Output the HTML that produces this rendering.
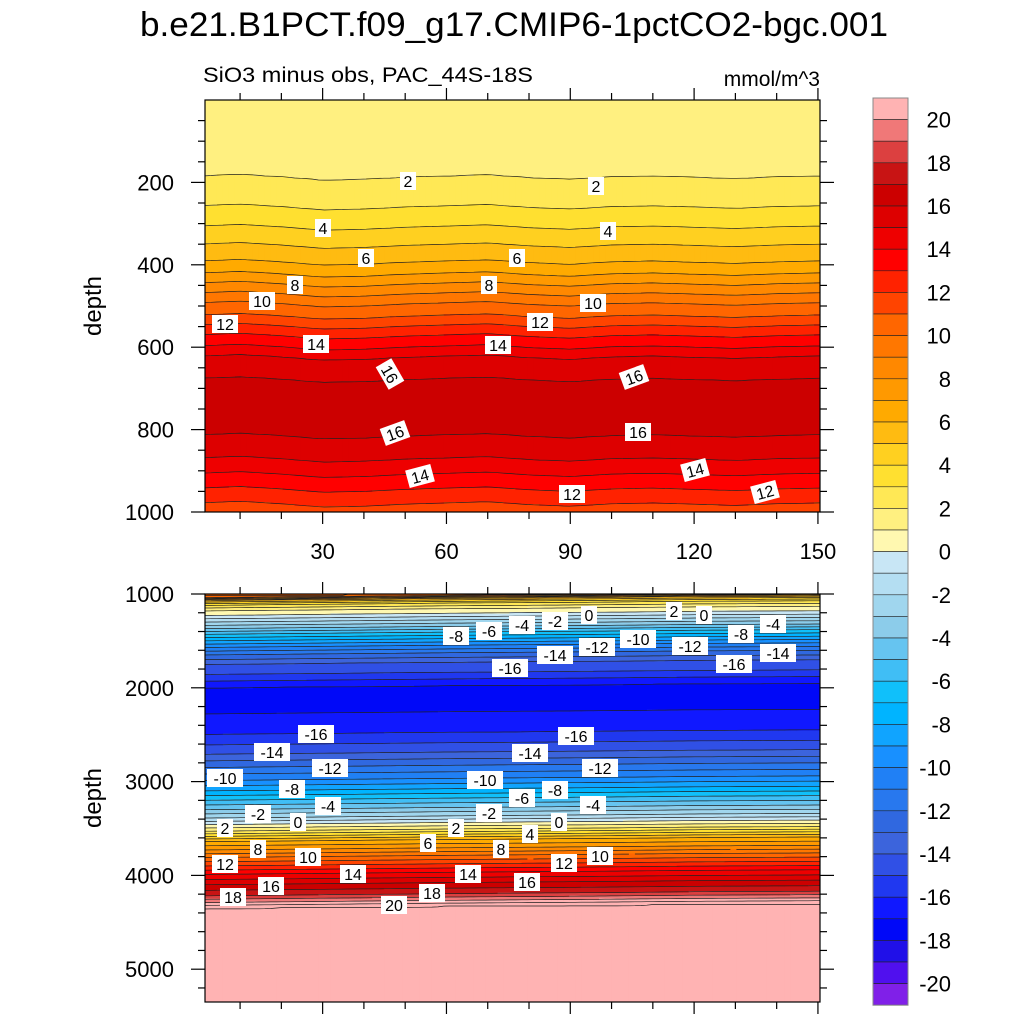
<!DOCTYPE html>
<html><head><meta charset="utf-8">
<style>
body{margin:0;background:#fff;}
svg{display:block;font-family:"Liberation Sans",sans-serif;}
</style></head>
<body>
<svg id="chart" width="1024" height="1024" viewBox="0 0 1024 1024">
<text x="514" y="36" font-size="34" text-anchor="middle" textLength="748" lengthAdjust="spacingAndGlyphs">b.e21.B1PCT.f09_g17.CMIP6-1pctCO2-bgc.001</text>
<text x="203" y="82" font-size="21" textLength="330" lengthAdjust="spacingAndGlyphs">SiO3 minus obs, PAC_44S-18S</text>
<text x="820" y="86" font-size="21" text-anchor="end">mmol/m^3</text>
<g id="top"></g>
<g id="bot"></g>
<g id="cbar"></g>
</svg>
<script>
// ---- data ----
const colors = ["#FFB3B3","#F07878","#DC4040","#C81414","#CC0000","#DD0000","#EE0000","#FF0000","#FF2200","#FF4400","#FF6600","#FF7700","#FF8800","#FF9900","#FFAA00","#FFBB11","#FFD020","#FFE030","#FFE855","#FFF080","#FFF8B0","#C8E6F5","#B4DEF2","#A0D6EE","#8CCCEA","#66C4F0","#40BEF5","#10C0FA","#00B4FF","#10A4FF","#1890FF","#2080F5","#2878EE","#3068E0","#3C64DC","#3050E6","#2038F0","#1018FF","#0008F8","#2010E8","#5010EE","#8020E8"];
const cbarLabels = [20,18,16,14,12,10,8,6,4,2,0,-2,-4,-6,-8,-10,-12,-14,-16,-18,-20];
const topDepths = [0,150,185,257,306,350,391,420,444,468,492,522,546,570,597,621,675,750,813,869,906,942,978,1000];
const topVals   = [1.3,1.8,2,3,4,5,6,7,8,9,10,11,12,13,14,15,16,16.6,16,15,14,13,12,11.4];
const botDepths = [1000,1040,1090,1150,1200,1270,1340,1400,1470,1540,1620,1720,1830,1900,1970,2100,2250,2470,2580,2680,2820,2960,3070,3170,3270,3360,3430,3500,3610,3700,3780,3870,3960,4070,4190,4260,4320,5400];
const botVals   = [11,6,3,1,0,-2,-4,-6,-8,-10,-12,-14,-15,-16,-17,-17.5,-17,-16,-15,-14,-12,-10,-8,-6,-4,-2,0,2,6,8,10,12,14,16,18,20,22,23];
const wobbleX   = [0,10,20,30,40,50,60,70,80,90,100,110,120,130,140,150];
const wobbleTop = [0,-4,2,10,8,3,0,-3,4,8,2,0,3,6,2,0];
const wobbleBot = [30,26,22,18,14,10,6,3,0,-3,-6,-10,-14,-16,-18,-20];
const topLabels = [["2",408,181,0],["2",596,186,0],["4",323,228,0],["4",608,231,0],["6",366,258,0],["6",517,258,0],["8",295,285,0],["8",489,285,0],["10",262,301,0],["10",593,303,0],["12",225,324,0],["12",540,322,0],["14",316,344,0],["14",498,345,0],["16",390,374,60],["16",634,377,-20],["16",395,433,-20],["16",638,432,0],["14",420,476,-15],["14",695,470,-15],["12",572,494,0],["12",765,492,-15]];
const botLabels = [["-8",456,636],["-6",489,631],["-4",522,625],["-2",555,621],["0",589,615],["2",674,611],["0",704,615],["-8",741,634],["-4",773,624],["-12",597,647],["-10",638,639],["-12",690,646],["-14",555,655],["-16",510,668],["-16",734,664],["-14",778,653],["-16",316,734],["-16",576,736],["-14",272,752],["-14",530,753],["-12",330,768],["-12",600,768],["-10",225,778],["-10",485,780],["-8",292,789],["-8",555,790],["-6",522,798],["-4",328,806],["-4",593,805],["-2",258,814],["-2",489,813],["0",298,822],["0",559,822],["2",225,828],["2",456,828],["6",428,843],["4",530,834],["8",258,849],["8",501,849],["10",308,857],["10",600,856],["12",225,864],["12",564,863],["14",353,874],["14",468,874],["16",271,886],["16",527,882],["18",233,897],["18",432,893],["20",394,905]];

const NS="http://www.w3.org/2000/svg";
function mk(tag,attrs,parent){const e=document.createElementNS(NS,tag);for(const k in attrs)e.setAttribute(k,attrs[k]);parent.appendChild(e);return e;}
function interp(xs,ys,x){if(x<=xs[0])return ys[0];for(let i=1;i<xs.length;i++){if(x<=xs[i]){const t=(x-xs[i-1])/(xs[i]-xs[i-1]);return ys[i-1]+t*(ys[i]-ys[i-1]);}}return ys[ys.length-1];}
function colIndex(v){if(v>=20)return 0;if(v<-20)return 41;return Math.floor(20-v)+1;}

const X0=205,X1=820,xmin=1.5,xmax=150.5;
const xs=x=>X0+(x-xmin)*(X1-X0)/(xmax-xmin);

function panel(g,cfg){
  const {y0,y1,d0,d1,depths,vals,wob,rowH}=cfg;
  const ys=d=>y0+(d-d0)*(y1-y0)/(d1-d0);
  const clip="clip"+cfg.id;
  const cp=mk("clipPath",{id:clip},g);mk("rect",{x:X0,y:y0,width:X1-X0,height:y1-y0},cp);
  const fill=mk("g",{"clip-path":"url(#"+clip+")"},g);
  
  
  const ncol=103, cw=(X1-X0)/ncol;
  const nrow=Math.ceil((y1-y0)/rowH);
  const colD=[];
  for(let c=0;c<=ncol;c++){
    const xv=xmin+(c/ncol)*(xmax-xmin);
    const off=interp(wobbleX,wob,xv);
    const arr=[];
    for(let r=0;r<=nrow;r++){const d=d0+(r*rowH)/(y1-y0)*(d1-d0);arr.push(interp(depths,vals,d-off));}
    colD.push(arr);
  }
  for(let c=0;c<ncol;c++){
    let start=0,cur=colIndex((colD[c][0]+colD[c+1][0]+colD[c][1]+colD[c+1][1])/4);
    for(let r=1;r<=nrow;r++){
      const ci=r<nrow?colIndex((colD[c][r]+colD[c+1][r]+colD[c][r+1]+colD[c+1][r+1])/4):-1;
      if(ci!==cur){
        const rc=mk("rect",{x:(X0+c*cw).toFixed(2),y:y0+start*rowH,width:(cw+0.6).toFixed(2),height:(r-start)*rowH+0.6,fill:colors[cur]},fill);
        
        
        start=r;cur=ci;
      }
    }
  }
  const lines=mk("g",{"clip-path":"url(#"+clip+")",fill:"none",stroke:"#222","stroke-width":"0.7"},g);
  for(let lv=-20;lv<=22;lv++){
    const crosses=[];
    for(let c=0;c<=ncol;c++){
      const arr=colD[c],list=[];
      for(let r=0;r<nrow;r++){const a=arr[r]-lv,b=arr[r+1]-lv;if((a<0&&b>=0)||(a>=0&&b<0)){list.push(y0+(r+a/(a-b))*rowH);}}
      crosses.push(list);
    }
    let d="";
    for(let c=0;c<ncol;c++){
      const A=crosses[c],B=crosses[c+1];
      if(A.length!==B.length)continue;
      for(let k=0;k<A.length;k++){
        if(Math.abs(A[k]-B[k])>15)continue;
        d+="M"+(X0+c*cw).toFixed(1)+" "+A[k].toFixed(1)+"L"+(X0+(c+1)*cw).toFixed(1)+" "+B[k].toFixed(1);
      }
    }
    if(d){const pl=mk("path",{d:d},lines);
      
      }
  }
  const fr=mk("rect",{x:X0,y:y0,width:X1-X0,height:y1-y0,fill:"none",stroke:"#000","stroke-width":"1.2"},g);
  
  
  const tk=mk("g",{stroke:"#000","stroke-width":"1.2"},g);
  for(let x=10;x<=150;x+=10){const L=x%30===0?12:7,px=xs(x);
    mk("line",{x1:px,x2:px,y1:y0,y2:y0-L},tk);mk("line",{x1:px,x2:px,y1:y1,y2:y1+L},tk);}
  for(let d=cfg.minorStart;d<=d1;d+=cfg.minor){const maj=(d%cfg.major===0),L=maj?14:7,py=ys(d);
    mk("line",{x1:X0,x2:X0-L,y1:py,y2:py},tk);mk("line",{x1:X1,x2:X1+L,y1:py,y2:py},tk);
    if(maj){const t=mk("text",{x:X0-31,y:py+8,"font-size":"22","text-anchor":"end",stroke:"none"},g);t.textContent=d;
      
      }}
  if(cfg.xlabels){for(let x=30;x<=150;x+=30){const t=mk("text",{x:xs(x),y:y1+47,"font-size":"22","text-anchor":"middle"},g);t.textContent=x;
      
      }}
  const yt=mk("text",{x:0,y:0,"font-size":"24","text-anchor":"middle",transform:"translate(101,"+((y0+y1)/2)+") rotate(-90)"},g);yt.textContent="depth";
  
  
  for(const lb of cfg.labels){
    const w=lb[0].length*10+6;
    const lg=mk("g",{transform:"translate("+lb[1]+","+lb[2]+") rotate("+(lb[3]||0)+")"},g);
    
    
    mk("rect",{x:-w/2,y:-9,width:w,height:18,fill:"#fff"},lg);
    const t=mk("text",{x:0,y:6,"font-size":"16","text-anchor":"middle"},lg);t.textContent=lb[0];
  }
}
panel(document.getElementById("top"),{id:"t",y0:100,y1:512,d0:0,d1:1000,depths:topDepths,vals:topVals,wob:wobbleTop,rowH:2,minor:50,minorStart:50,major:200,xlabels:true,labels:topLabels});
panel(document.getElementById("bot"),{id:"b",y0:594,y1:1002,d0:1000,d1:1000+(1002-594)/0.0938,depths:botDepths,vals:botVals,wob:wobbleBot,rowH:1.5,minor:200,minorStart:1000,major:1000,xlabels:false,labels:botLabels});

const cb=document.getElementById("cbar");
const CY0=98,BH=21.6;
colors.forEach((c,i)=>{const r=mk("rect",{x:873,y:CY0+i*BH,width:35,height:BH,fill:c,stroke:"#222","stroke-width":"0.6"},cb);
  
  });
mk("rect",{x:873,y:CY0,width:35,height:BH*42,fill:"none",stroke:"#888","stroke-width":"1"},cb);
cbarLabels.forEach(v=>{const t=mk("text",{x:951,y:CY0+(21-v)*BH+8,"font-size":"22","text-anchor":"end"},cb);t.textContent=v;
  
  });
</script>
</body></html>
